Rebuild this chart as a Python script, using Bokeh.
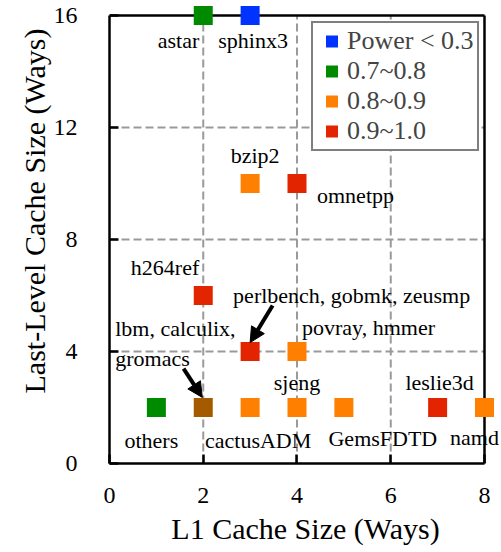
from bokeh.plotting import figure
from bokeh.models import (Range1d, FixedTicker, Title, Arrow, NormalHead,
                          ColumnDataSource, Legend, LegendItem)
from bokeh.core.properties import value
from bokeh.embed import file_html
from bokeh.resources import INLINE

# ---------------- data ----------------
names = ["astar", "sphinx3", "bzip2", "omnetpp", "h264ref",
         "perlbench, gobmk, zeusmp", "povray, hmmer", "others",
         "lbm, calculix,\ngromacs", "cactusADM", "sjeng", "GemsFDTD",
         "leslie3d", "namd"]
l1_ways = [2, 3, 3, 4, 2, 3, 4, 1, 2, 3, 4, 5, 7, 8]
llc_ways = [16, 16, 10, 10, 6, 4, 4, 2, 2, 2, 2, 2, 2, 2]
power_class = ["0.7~0.8", "Power < 0.3", "0.8~0.9", "0.9~1.0", "0.9~1.0",
               "0.9~1.0", "0.8~0.9", "0.7~0.8", "mixed", "0.8~0.9",
               "0.8~0.9", "0.8~0.9", "0.9~1.0", "0.8~0.9"]
legend_classes = ["Power < 0.3", "0.7~0.8", "0.8~0.9", "0.9~1.0"]
x_ticks = [0, 2, 4, 6, 8]
y_ticks = [0, 4, 8, 12, 16]

# ---------------- styles / positions ----------------
class_colors = {"Power < 0.3": "#0033FF", "0.7~0.8": "#008A00",
                "0.8~0.9": "#FF7F00", "0.9~1.0": "#E32400", "mixed": "#A65A00"}
label_align = ["right", "center", "center", "left", "right", "left", "left",
               "center", "left", "center", "center", "center", "center", "center"]
label_dx = [-4, 3, 5, 20, -4, -17, 5, -5, -88, 8, 0, 39, 2, -10]
label_dy = [25, 25, -28, 12, -28, -56, -24, 33, -64, 33, -25, 31, -25, 30]
FONT = "Liberation Serif"

p = figure(width=501, height=552, output_backend="svg", toolbar_location=None,
           x_range=Range1d(0, 8.3627), y_range=Range1d(0, 16.393),
           min_border_left=109, min_border_right=0, min_border_top=4,
           min_border_bottom=89)
p.outline_line_color = None
p.xgrid.visible = False
p.ygrid.visible = False
p.background_fill_color = "white"

# dashed grid lines at interior ticks, limited to the 0..8 / 0..16 box
gx = x_ticks[1:-1]
gy = y_ticks[1:-1]
p.segment(x0=gx, y0=[y_ticks[0]] * len(gx), x1=gx, y1=[y_ticks[-1]] * len(gx),
          line_color="#9a9a9a", line_width=2, line_dash="8 4")
p.segment(x0=[x_ticks[0]] * len(gy), y0=gy, x1=[x_ticks[-1]] * len(gy), y1=gy,
          line_color="#9a9a9a", line_width=2, line_dash="8 4")
# top and right frame lines
p.segment(x0=[x_ticks[0], x_ticks[-1]], y0=[y_ticks[-1], y_ticks[0]],
          x1=[x_ticks[-1], x_ticks[-1]], y1=[y_ticks[-1], y_ticks[-1]],
          line_color="black", line_width=2.5)

# markers
renderers = {}
for cls in legend_classes + ["mixed"]:
    idx = [i for i, c in enumerate(power_class) if c == cls]
    src = ColumnDataSource(dict(x=[l1_ways[i] for i in idx],
                                y=[llc_ways[i] for i in idx]))
    renderers[cls] = p.scatter("x", "y", source=src, marker="square", size=19,
                               fill_color=class_colors[cls], line_color=None)

# text labels
tsrc = ColumnDataSource(dict(x=l1_ways, y=llc_ways, text=names, align=label_align,
                             dx=label_dx, dy=label_dy))
p.text("x", "y", text="text", source=tsrc, text_align="align",
       text_baseline="middle", x_offset="dx", y_offset="dy",
       text_font=value(FONT), text_font_size="22px", text_color="black")

# arrows
p.add_layout(Arrow(end=NormalHead(size=15, fill_color="black", line_color="black"),
                   x_start=3.48, y_start=5.64, x_end=3.0, y_end=4.32,
                   line_width=4, line_color="black"))
p.add_layout(Arrow(end=NormalHead(size=15, fill_color="black", line_color="black"),
                   x_start=1.58, y_start=3.39, x_end=1.98, y_end=2.36,
                   line_width=4, line_color="black"))

# axes
for ax, ticks in ((p.xaxis[0], x_ticks), (p.yaxis[0], y_ticks)):
    ax.ticker = FixedTicker(ticks=ticks)
    ax.bounds = (ticks[0], ticks[-1])
    ax.axis_line_width = 2.5
    ax.axis_line_color = "black"
    ax.major_tick_in = 9
    ax.major_tick_out = 0
    ax.major_tick_line_width = 2.5
    ax.minor_tick_line_color = None
    ax.major_label_text_font = FONT
    ax.major_label_text_font_size = "24px"
    ax.major_label_text_color = "black"
    ax.axis_label_text_font = FONT
    ax.axis_label_text_font_style = "normal"
    ax.axis_label_text_font_size = "30px"
    ax.axis_label_text_color = "black"

p.xaxis.axis_label = "L1 Cache Size (Ways)"
p.xaxis.major_label_standoff = 24
p.xaxis.axis_label_standoff = 6
p.yaxis.major_label_standoff = 32

p.add_layout(Title(text="Last-Level Cache Size (Ways)", align="left", offset=70,
                   text_font=FONT, text_font_size="30px", text_font_style="normal",
                   text_color="black", standoff=0), "left")

legend = Legend(items=[LegendItem(label=c, renderers=[renderers[c]]) for c in legend_classes],
                location=(202, 312), margin=0, padding=3, spacing=0,
                glyph_width=31, glyph_height=30, label_standoff=-6,
                label_height=30,
                label_text_font=FONT, label_text_font_size="26px",
                label_text_baseline="middle",
                border_line_color="black", border_line_width=2,
                background_fill_color="white", background_fill_alpha=1)
p.add_layout(legend)

open("out.html", "w").write(file_html(p, INLINE))
